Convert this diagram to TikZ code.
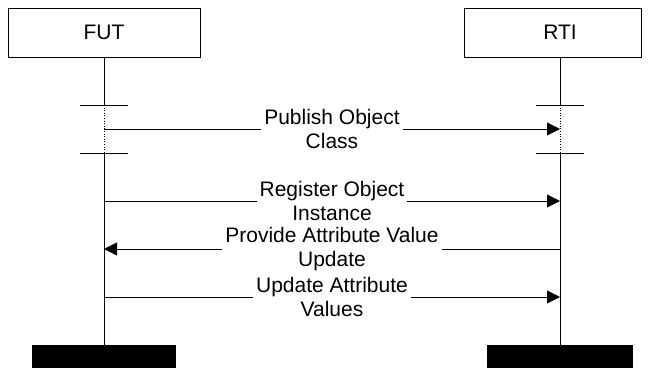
\documentclass[tikz,border=0pt]{standalone}
\usepackage{fontspec}
\setmainfont{Liberation Sans}
\usetikzlibrary{arrows.meta}
\begin{document}
\begin{tikzpicture}[x=1pt,y=-1pt,
  txt/.style={font=\fontsize{21}{24}\selectfont},
  head/.style={draw, line width=0.8pt, minimum height=49pt, inner sep=0pt, txt},
  endbar/.style={fill=black, minimum height=23pt, inner sep=0pt, anchor=north},
  life/.style={line width=0.8pt},
  coreg/.style={line width=0.6pt, dotted},
  tickmark/.style={line width=0.8pt},
  msg/.style={line width=0.8pt, -{Triangle[length=13pt,width=13pt]}},
  lbl/.style={fill=white, align=center, inner xsep=3pt, inner ysep=0pt, txt}]
\useasboundingbox (0,0) rectangle (649,368);
% heads
\node[head, minimum width=192pt] (fut) at (104,32.5) {FUT};
\node[head, minimum width=177pt] (rti) at (552.5,32.5) {};
\node[txt, inner sep=0pt] (rtit) at (560,32.5) {RTI};
% end bars
\node[endbar, minimum width=144pt] (futend) at (104,345) {};
\node[endbar, minimum width=146pt] (rtiend) at (560,345) {};
% coregion coordinates
\coordinate (fc1) at (104,105);
\coordinate (fc2) at (104,153);
\coordinate (rc1) at (560,105);
\coordinate (rc2) at (560,153);
% lifelines
\draw[life] (fut.south) -- (fc1);
\draw[coreg] (fc1) -- (fc2);
\draw[life] (fc2) -- (futend.north);
\draw[life] (rtit |- rti.south) -- (rc1);
\draw[coreg] (rc1) -- (rc2);
\draw[life] (rc2) -- (rtiend.north);
% coregion ticks
\draw[tickmark] ([xshift=-24pt]fc1) -- ([xshift=24pt]fc1);
\draw[tickmark] ([xshift=-24pt]fc2) -- ([xshift=24pt]fc2);
\draw[tickmark] ([xshift=-24pt]rc1) -- ([xshift=24pt]rc1);
\draw[tickmark] ([xshift=-24pt]rc2) -- ([xshift=24pt]rc2);
% message coordinates
\coordinate (f1) at (104,129); \coordinate (r1) at (560,129);
\coordinate (f2) at (104,201); \coordinate (r2) at (560,201);
\coordinate (f3) at (104,249); \coordinate (r3) at (560,249);
\coordinate (f4) at (104,297); \coordinate (r4) at (560,297);
% messages
\draw[msg] (f1) -- (r1) node[lbl, midway] (m1) {Publish Object\\Class};
\draw[msg] (f2) -- (r2) node[lbl, midway] (m2) {Register Object\\Instance};
\draw[msg] (r3) -- (f3) node[lbl, midway] (m3) {Provide Attribute Value\\Update};
\draw[msg] (f4) -- (r4) node[lbl, midway] (m4) {Update Attribute\\Values};
\end{tikzpicture}
\end{document}
